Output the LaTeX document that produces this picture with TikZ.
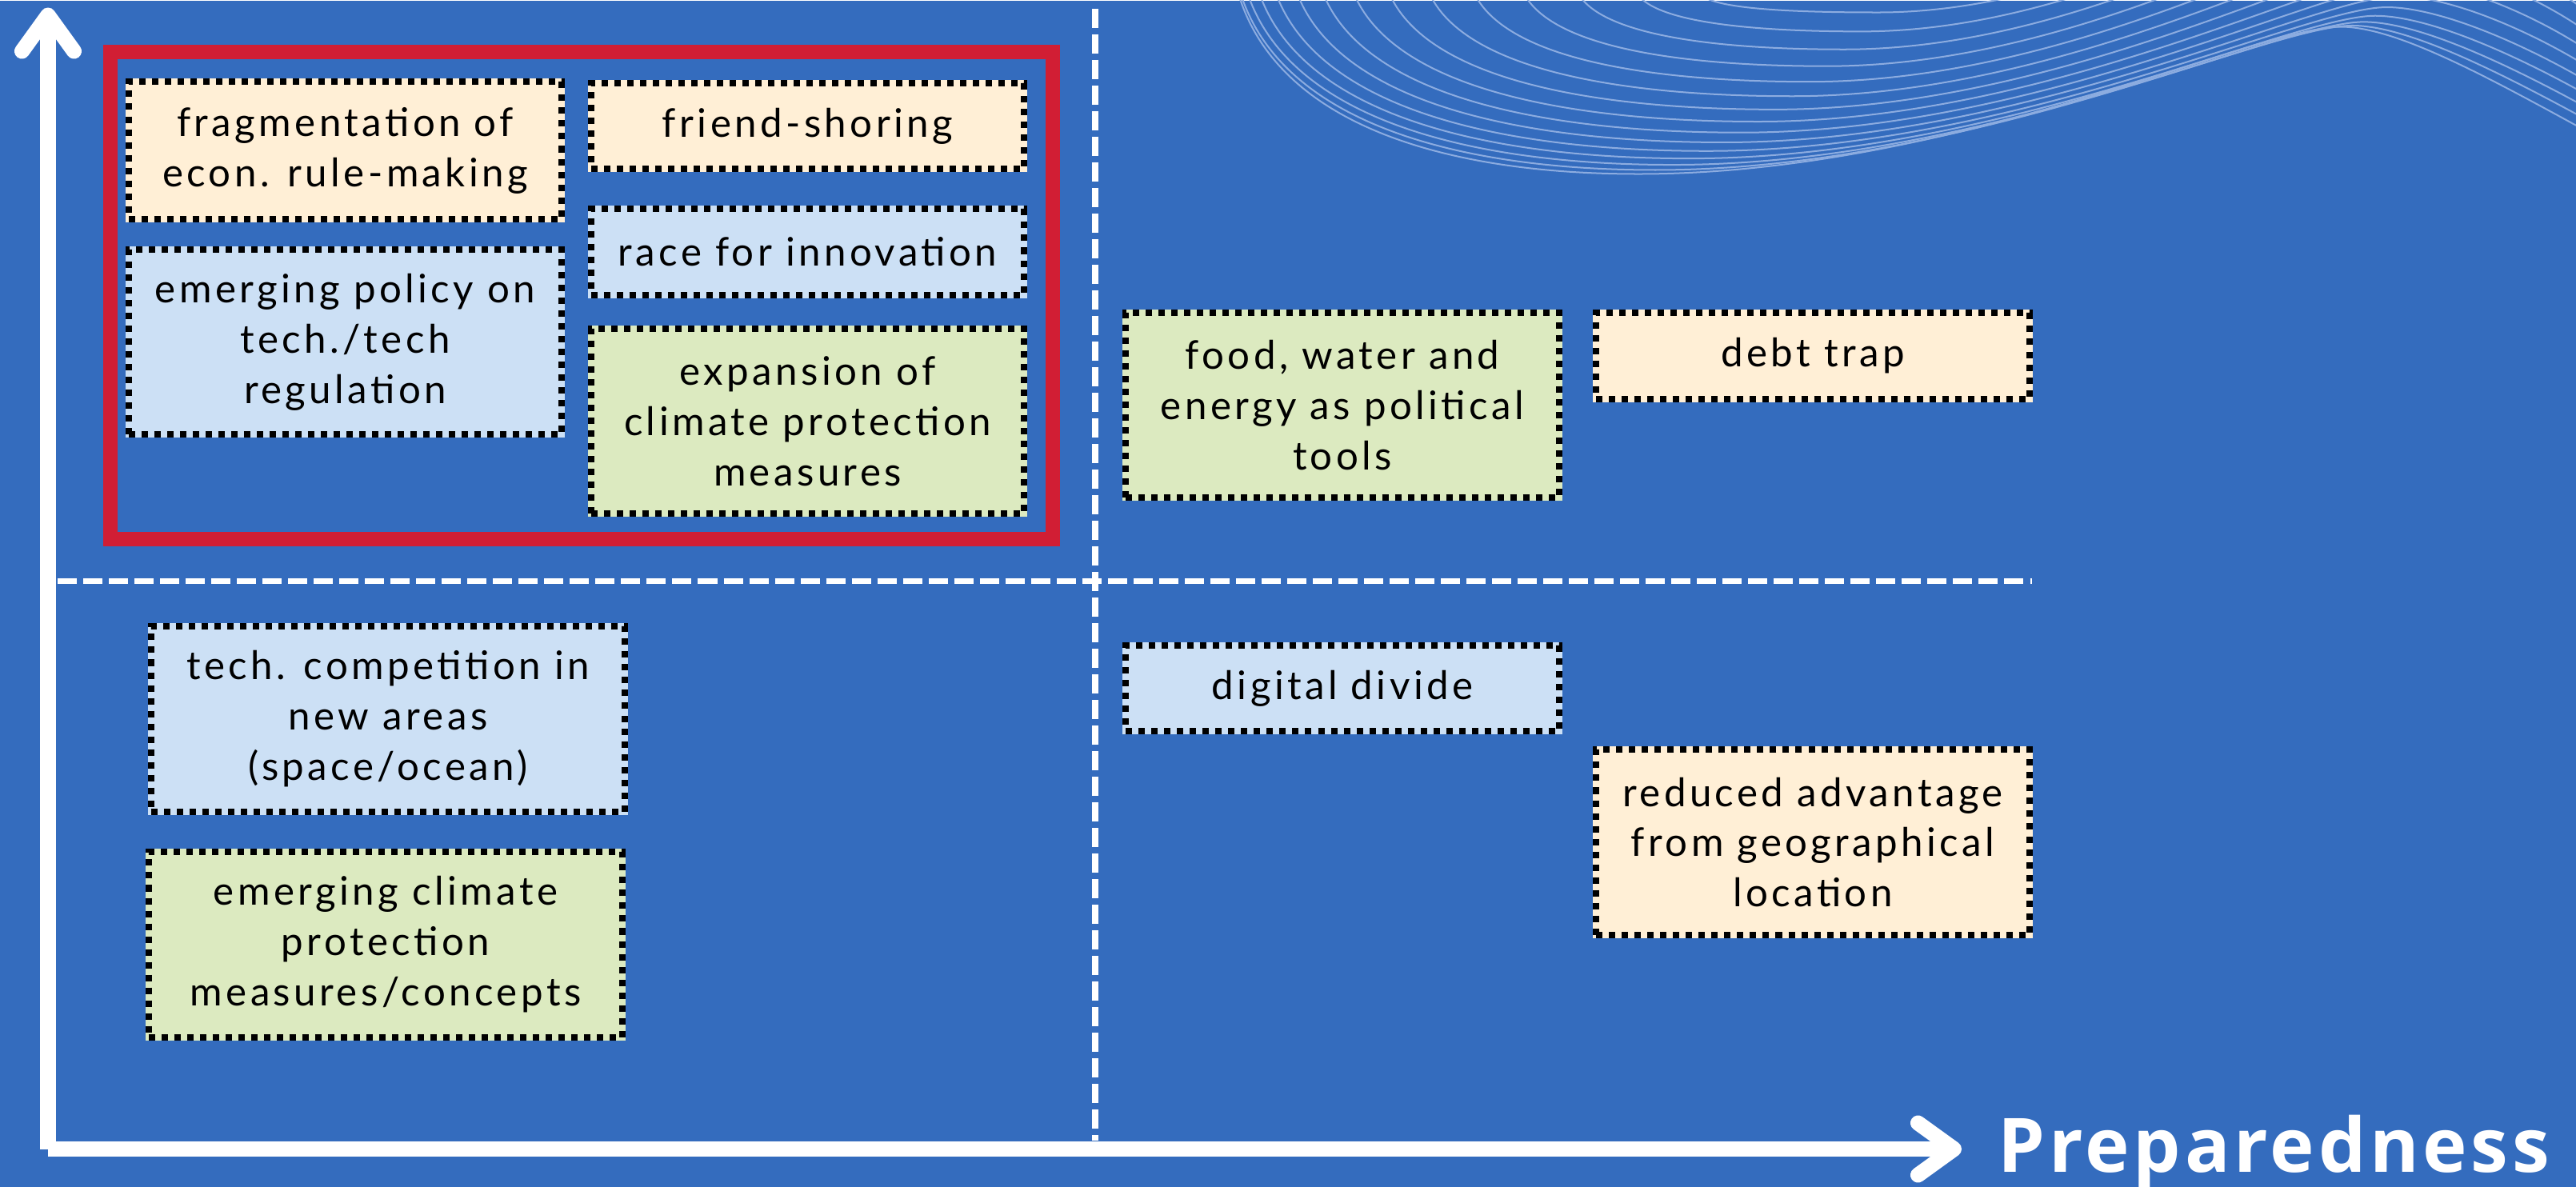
\documentclass[tikz,border=0pt]{standalone}
\usepackage{fontspec}
\usepackage{tikz}
\usetikzlibrary{arrows.meta}
\newfontfamily\boxfont{Lato}[LetterSpace=9]
\newfontfamily\axisfont{Open Sans}[LetterSpace=5]
\definecolor{bgblue}{RGB}{52,108,190}
\definecolor{peach}{RGB}{255,239,214}
\definecolor{paleblue}{RGB}{204,224,245}
\definecolor{palegreen}{RGB}{220,234,192}
\definecolor{framered}{RGB}{209,30,52}
\definecolor{wavecol}{RGB}{140,172,224}

\begin{document}
\begin{tikzpicture}[x=0.01cm, y=-0.01cm,
    issue/.style={rectangle, fill=#1, preaction={draw=#1, solid}, draw=black,
      line width=0.08cm, dash pattern=on 0.08cm off 0.08cm, inner sep=0pt,
      align=center, minimum width=5.41cm, minimum height=1.07cm,
      font=\fontsize{14pt}{17.9pt}\selectfont\boxfont},
    twolines/.style={minimum height=1.71cm},
    threelines/.style={minimum height=2.31cm},
    wide/.style={minimum width=5.92cm},
    axis/.style={white, line width=0.19cm, -{Straight Barb[length=4.5mm, width=6.5mm, round]}},
    quadrant/.style={white, line width=0.075cm, dash pattern=on 0.24cm off 0.08cm},
    wave/.style={wavecol, line width=0.02cm}]
      \fill[bgblue] (0,0) rectangle (3220,1483);
      \begin{scope}
        \clip (0,0) rectangle (3220,1483);
        \foreach \i in {0,...,14}{
          \pgfmathsetmacro\t{\i/14}
          \pgfmathsetmacro\xs{1549+580*\t*\t}
          \pgfmathsetmacro\xm{2048+300*\t}
          \pgfmathsetmacro\ym{217-60*\t-142*\t*\t}
          \pgfmathsetmacro\xp{2926+200*\t}
          \pgfmathsetmacro\yp{33-300*\t*\t}
          \pgfmathsetmacro\ye{200-200*\t}
          \draw[wave] (\xs,-5) .. controls ({\xs+0.1*(\xm-\xs)},{0.7*\ym}) and ({\xm-0.5*(\xm-\xs)},\ym) .. (\xm,\ym)
            .. controls ({\xm+0.45*(\xp-\xm)},\ym) and ({\xp-0.12*(\xp-\xm)},\yp) .. (\xp,\yp)
            .. controls ({\xp+80},\yp) and ({\xp+220},{\yp+0.5*(\ye-\yp)}) .. (3300,\ye);
        }
      \end{scope}

      \coordinate (vtop) at (1369,10);
      \coordinate (vbot) at (1369,1425);
      \coordinate (hleft) at (72,726);
      \coordinate (hright) at (2540,726);
      \draw[quadrant] (vtop) -- (vbot);
      \draw[quadrant] (hleft) -- (hright);

      \draw[framered, line width=0.18cm] (138,64) rectangle (1316,673.5);

      \node[issue=peach, twolines] (frag) at (431.5,187.5) {fragmentation of\\econ. rule-making};
      \node[issue=peach] (friend) at (1009.5,157) {friend-shoring};
      \node[issue=paleblue] (race) at (1009.5,314.5) {race for innovation};
      \node[issue=paleblue, threelines] (policy) at (431.5,427) {emerging policy on\\tech./tech\\regulation};
      \node[issue=palegreen, threelines] (expansion) at (1009.5,526) {expansion of\\climate protection\\measures};
      \node[issue=palegreen, threelines] (food) at (1678,506) {food, water and\\energy as political\\tools};
      \node[issue=peach] (debt) at (2266,444.5) {debt trap};
      \node[issue=paleblue, threelines, wide] (techcomp) at (485,898.5) {tech. competition in\\new areas\\(space/ocean)};
      \node[issue=palegreen, threelines, wide] (emclimate) at (482,1180.5) {emerging climate\\protection\\measures/concepts};
      \node[issue=paleblue] (digital) at (1678,860) {digital divide};
      \node[issue=peach, threelines] (reduced) at (2266,1052.5) {reduced advantage\\from geographical\\location};

      \coordinate (O) at (60,1436);
      \coordinate (Ytip) at (60,9);
      \coordinate (Xtip) at (2452,1436);
      \draw[axis] (O) -- (Ytip);
      \draw[axis] (O) -- (Xtip);
      \node[anchor=base west, inner sep=0pt, text=white,
        font=\fontsize{26.7pt}{32pt}\selectfont\axisfont\bfseries] (prep) at (2497,1465) {Preparedness};
    \end{tikzpicture}
\end{document}
